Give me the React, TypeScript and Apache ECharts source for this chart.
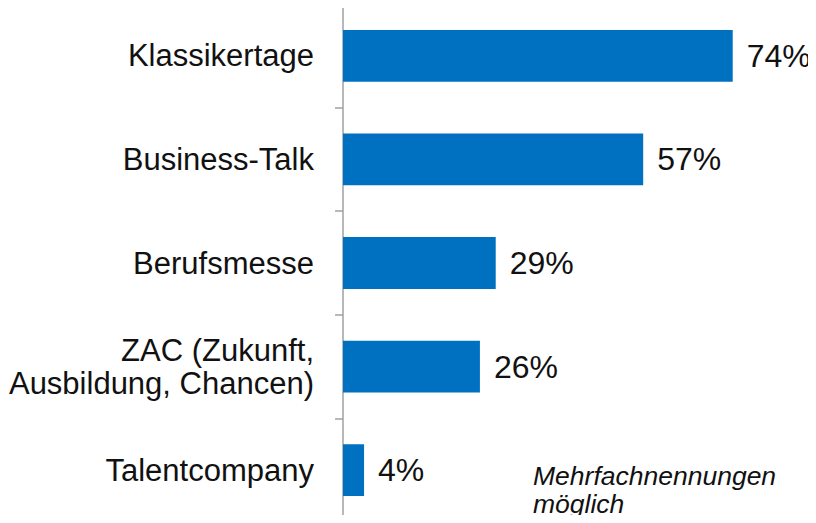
import React, { useEffect, useRef } from "react";
import * as echarts from "echarts";

const categories = [
  "Klassikertage",
  "Business-Talk",
  "Berufsmesse",
  "ZAC (Zukunft,\nAusbildung, Chancen)",
  "Talentcompany",
];
const values = [74, 57, 29, 26, 4];
const noteText = "Mehrfachnennungen\nmöglich";

export default function App() {
  const ref = useRef<HTMLDivElement>(null);
  useEffect(() => {
    if (!ref.current) return;
    const chart = echarts.init(ref.current, undefined, { renderer: "svg" });
    const font = "'Liberation Sans', Arial, sans-serif";
    chart.setOption({
      animation: false,
      grid: {
        left: 343,
        top: 4,
        right: 51.7,
        bottom: 1,
        containLabel: false,
        outerBoundsMode: "none",
      },
      xAxis: {
        type: "value",
        min: 0,
        max: 80,
        show: false,
      },
      yAxis: {
        type: "category",
        data: categories,
        inverse: true,
        axisLine: { show: true, lineStyle: { color: "#a0a0a0", width: 1.5 } },
        axisTick: { show: true, length: 8, lineStyle: { color: "#a0a0a0", width: 1.5 } },
        axisLabel: {
          margin: 29,
          color: "#111",
          fontFamily: font,
          fontSize: 31,
          lineHeight: 33,
          align: "right",
        },
        splitLine: { show: false },
      },
      series: [
        {
          type: "bar",
          data: values,
          barCategoryGap: "50%",
          itemStyle: { color: "#0070C0" },
          label: {
            show: true,
            position: "right",
            distance: 14,
            formatter: "{c}%",
            color: "#111",
            fontFamily: font,
            fontSize: 32,
          },
        },
      ],
      graphic: [
        {
          type: "text",
          left: 533,
          top: 462,
          style: {
            text: noteText,
            fontFamily: font,
            fontSize: 26.5,
            fontStyle: "italic",
            lineHeight: 28,
            fill: "#111",
          },
        },
      ],
    });
    return () => chart.dispose();
  }, []);
  return <div ref={ref} style={{ width: 816, height: 523, margin: -8 }} />;
}
